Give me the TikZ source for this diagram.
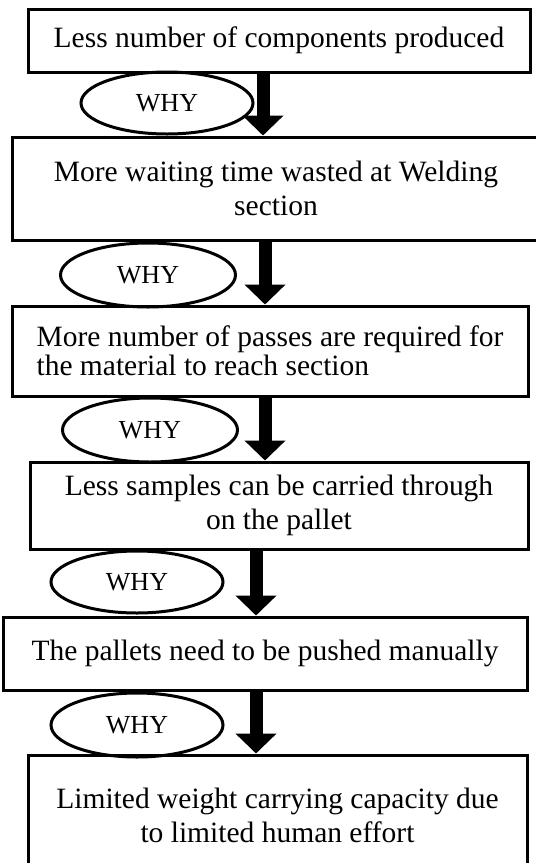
\documentclass[tikz,border=0pt]{standalone}
\usepackage{fontspec}
\setmainfont{Liberation Serif}
\usetikzlibrary{
    arrows.meta,
    positioning,
    shapes.geometric
}

\begin{document}
\begin{tikzpicture}[
    x=1pt, y=-1pt,
    every node/.style={font=\fontsize{29.5pt}{34pt}\selectfont},
    why_box/.style={rectangle, draw=black, line width=3pt, align=center, inner sep=0pt},
    why_oval/.style={ellipse, draw=black, line width=3pt, inner sep=0pt, minimum width=172pt, minimum height=62pt, font=\fontsize{26pt}{30pt}\selectfont},
    down_arrow/.style={line width=13pt, -{Triangle[width=40pt, length=20pt]}, draw=black}
]
\useasboundingbox (0,0) rectangle (536,863);

% chain of causes
\node[why_box, minimum width=502pt, minimum height=63pt] (b1) at (279,40.5) {Less number of components produced};
\node[why_box, minimum width=528pt, minimum height=103pt] (b2) at (276,188.5) {More waiting time wasted at Welding\\section};
\node[why_box, minimum width=516pt, minimum height=90pt, align=left,
      font=\fontsize{29.5pt}{29pt}\selectfont] (b3) at (270,351) {More number of passes are required for\\the material to reach section};
\node[why_box, minimum width=498pt, minimum height=87pt] (b4) at (279,505.5) {Less samples can be carried through\\on the pallet};
\node[why_box, minimum width=524pt, minimum height=73pt] (b5) at (265,653.5) {The pallets need to be pushed manually};
\node[why_box, minimum width=499pt, minimum height=120pt] (b6) at (277.5,815) {Limited weight carrying capacity due\\to limited human effort};

% WHY ovals
\node[why_oval] (w1) at (167,103) {WHY};
\node[why_oval, minimum width=175pt, minimum height=64pt] (w2) at (148,275) {WHY};
\node[why_oval, minimum width=175pt, minimum height=64pt] (w3) at (150,430) {WHY};
\node[why_oval] (w4) at (137,582) {WHY};
\node[why_oval, minimum height=64pt] (w5) at (137,725) {WHY};

% arrows
\draw[down_arrow] ([xshift=-16pt]b1.south) coordinate (a1) -- (a1 |- b2.north);
\draw[down_arrow] ([xshift=-11pt]b2.south) coordinate (a2) -- (a2 |- b3.north);
\draw[down_arrow] ([xshift=-5pt]b3.south) coordinate (a3) -- (a3 |- b4.north);
\draw[down_arrow] ([xshift=-23pt]b4.south) coordinate (a4) -- (a4 |- b5.north);
\draw[down_arrow] ([xshift=-9pt]b5.south) coordinate (a5) -- (a5 |- b6.north);

\end{tikzpicture}
\end{document}
